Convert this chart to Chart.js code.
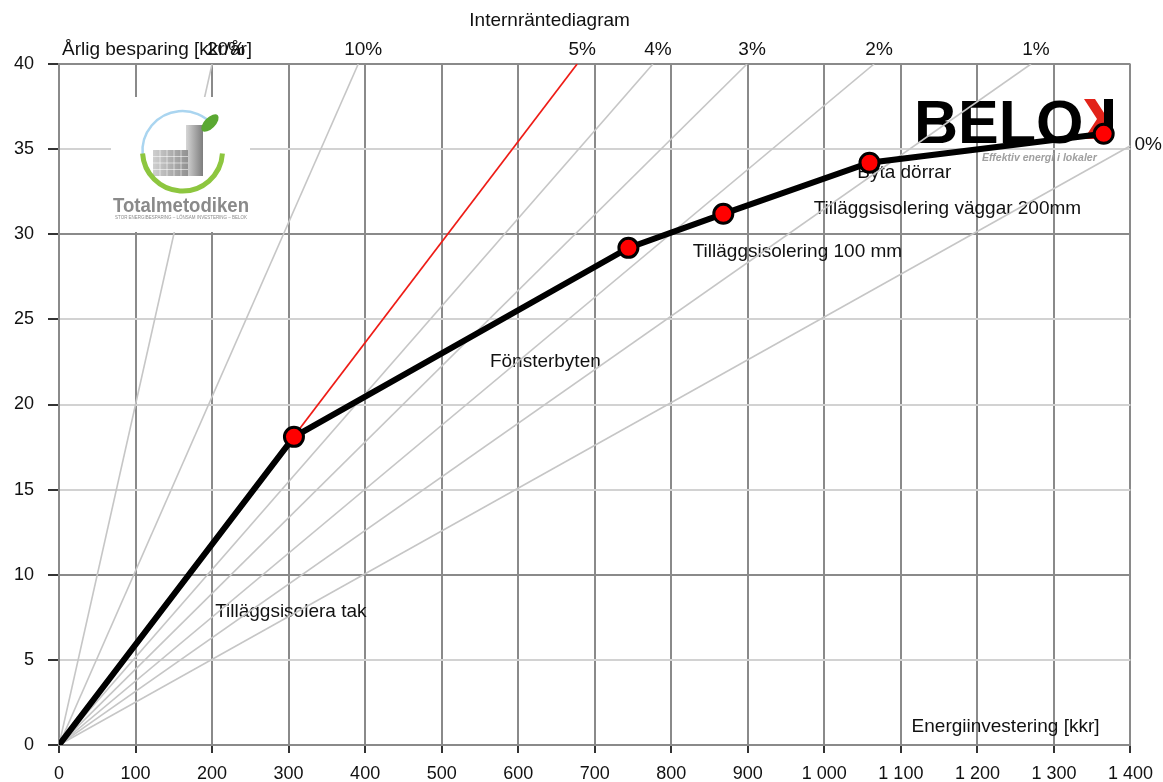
<!DOCTYPE html>
<html>
<head>
<meta charset="utf-8">
<title>Internräntediagram</title>
<script src="https://cdn.jsdelivr.net/npm/chart.js@4.4.1/dist/chart.umd.min.js"></script>
<style>
  html, body { margin: 0; padding: 0; background: #fff; }
  #wrap { width: 1163px; height: 782px; }
</style>
</head>
<body>
<div id="wrap"><canvas id="chart" width="1163" height="782"></canvas></div>
<script>
// Åtgärder i ordning, kumulativ investering (kkr) och årlig besparing (kkr/år)
const measures = ['', 'Tilläggsisolera tak', 'Fönsterbyten', 'Tilläggsisolering 100 mm', 'Tilläggsisolering väggar 200mm', 'Byta dörrar'];
const investment = [0, 307, 744, 868, 1059, 1365];
const savings = [0, 18.1, 29.2, 31.2, 34.2, 35.9];

// Internräntelinjer från origo, avlästa där de lämnar ritytan
const rateLabels = ['20%', '10%', '5%', '4%', '3%', '2%', '1%', '0%'];
const rateEndX = [200, 391, 677, 776, 899, 1065, 1270, 1400];
const rateEndY = [40, 40, 40, 40, 40, 40, 40, 35.2];
const calcRate = '5%';

const xMax = 1400, xStep = 100;
const yMax = 40, yStep = 5;
const darkRows = [0, 10, 30, 40];

// var åtgärdstexterna står (datakoordinater, vänsterkant / mitt)
const notePos = [null, [204, 7.8], [563, 22.5], [828, 29.0], [986, 31.5], [1043, 33.6]];

const FONT = "'Liberation Sans', Arial, sans-serif";
const DARK = '#8a8a8a';
const LIGHT = '#d2d2d2';

function kkr(v) {
  if (v < 1000) return String(v);
  return Math.floor(v / 1000) + ' ' + String(v % 1000).padStart(3, '0');
}

function drawBelok(ctx) {
  ctx.save();
  ctx.fillStyle = '#000';
  ctx.font = 'bold 61px ' + FONT;
  ctx.textBaseline = 'alphabetic';
  ctx.textAlign = 'left';
  ctx.fillText('BELO', 914, 143);
  // röd vinkel + svart stapel
  ctx.fillStyle = '#e2231a';
  ctx.beginPath();
  ctx.moveTo(1084, 99);
  ctx.lineTo(1095, 99);
  ctx.lineTo(1108, 119);
  ctx.lineTo(1095, 139);
  ctx.lineTo(1084, 139);
  ctx.lineTo(1097, 119);
  ctx.closePath();
  ctx.fill();
  ctx.fillStyle = '#000';
  ctx.fillRect(1104, 99, 9, 40);
  ctx.fillStyle = '#a0a0a0';
  ctx.font = 'italic bold 10.5px ' + FONT;
  ctx.fillText('Effektiv energi i lokaler', 982, 161, 131);
  ctx.restore();
}

function drawTotalmetodiken(ctx) {
  ctx.save();
  ctx.fillStyle = '#fff';
  ctx.fillRect(111, 97, 139, 135);
  const cx = 182.5, cy = 151, r = 40;
  // byggnader
  let g = ctx.createLinearGradient(186, 0, 203, 0);
  g.addColorStop(0, '#d6d6d6');
  g.addColorStop(1, '#7d7d7d');
  ctx.fillStyle = g;
  ctx.fillRect(186, 125, 17, 51);
  g = ctx.createLinearGradient(153, 0, 190, 0);
  g.addColorStop(0, '#cfcfcf');
  g.addColorStop(1, '#8e8e8e');
  ctx.fillStyle = g;
  ctx.fillRect(153, 150, 35, 26);
  ctx.strokeStyle = 'rgba(255,255,255,0.7)';
  ctx.lineWidth = 0.8;
  for (let i = 1; i < 5; i++) {
    ctx.beginPath(); ctx.moveTo(153 + i * 7, 150); ctx.lineTo(153 + i * 7, 176); ctx.stroke();
  }
  for (let j = 1; j < 4; j++) {
    ctx.beginPath(); ctx.moveTo(153, 150 + j * 6.5); ctx.lineTo(188, 150 + j * 6.5); ctx.stroke();
  }
  // cirkelbågar
  ctx.strokeStyle = '#aad5f0';
  ctx.lineWidth = 2.5;
  ctx.beginPath(); ctx.arc(cx, cy, r, Math.PI * 0.97, Math.PI * 1.78); ctx.stroke();
  ctx.strokeStyle = '#8dc63f';
  ctx.lineWidth = 5;
  ctx.beginPath(); ctx.arc(cx, cy, r, Math.PI * 0.02, Math.PI * 0.98); ctx.stroke();
  // löv
  ctx.fillStyle = '#5aa832';
  ctx.beginPath(); ctx.ellipse(210, 123, 11, 5.5, -Math.PI / 4, 0, Math.PI * 2); ctx.fill();
  // text
  ctx.fillStyle = '#8a8a8a';
  ctx.textAlign = 'left';
  ctx.textBaseline = 'alphabetic';
  ctx.font = 'bold 20px ' + FONT;
  ctx.fillText('Totalmetodiken', 113, 212, 136);
  ctx.font = '4.5px ' + FONT;
  ctx.fillText('STOR ENERGIBESPARING – LÖNSAM INVESTERING – BELOK', 115, 219, 132);
  ctx.restore();
}

const decor = {
  id: 'decor',
  beforeDatasetsDraw(chart) {
    const { ctx, scales: { x, y } } = chart;
    ctx.save();
    ctx.fillStyle = '#111';
    ctx.font = '19px ' + FONT;
    ctx.textBaseline = 'middle';
    ctx.textAlign = 'left';
    measures.forEach((m, i) => {
      if (!m) return;
      ctx.fillText(m, x.getPixelForValue(notePos[i][0]), y.getPixelForValue(notePos[i][1]));
    });
    ctx.fillText('Energiinvestering [kkr]', x.getPixelForValue(1114), y.getPixelForValue(1.05));
    ctx.restore();
    drawBelok(ctx);
  },
  afterDatasetsDraw(chart) {
    const { ctx, scales: { x, y }, chartArea: a } = chart;
    drawTotalmetodiken(ctx);
    ctx.save();
    ctx.fillStyle = '#111';
    ctx.font = '19px ' + FONT;
    ctx.textBaseline = 'middle';
    ctx.textAlign = 'center';
    ctx.fillText('Internräntediagram', x.getPixelForValue(641), a.top - 43);
    ctx.textAlign = 'left';
    ctx.fillText('Årlig besparing [kkr/år]', a.left + 3, a.top - 14);
    rateLabels.forEach((lbl, i) => {
      if (rateEndY[i] >= yMax) {
        ctx.textAlign = 'center';
        ctx.fillText(lbl, x.getPixelForValue(rateEndX[i]) + (i === 0 ? 14 : 5), a.top - 14);
      } else {
        ctx.textAlign = 'left';
        ctx.fillText(lbl, a.right + 4, y.getPixelForValue(rateEndY[i]) - 1);
      }
    });
    ctx.restore();
  }
};

const mainSeries = investment.map((v, i) => ({ x: v, y: savings[i] }));

const rateSets = rateEndX.map((ex, i) => {
  const red = rateLabels[i] === calcRate;
  return {
    label: rateLabels[i],
    data: [{ x: 0, y: 0 }, { x: ex, y: rateEndY[i] }],
    showLine: true,
    borderColor: red ? '#ee1c16' : '#c6c6c6',
    borderWidth: red ? 1.7 : 1.6,
    pointRadius: 0,
    order: red ? 1 : 2
  };
});

new Chart(document.getElementById('chart'), {
  type: 'scatter',
  data: {
    datasets: [
      {
        label: 'Åtgärder',
        data: mainSeries,
        showLine: true,
        borderColor: '#000',
        borderWidth: 6,
        pointRadius: ctx => (ctx.dataIndex === 0 ? 0 : 9.5),
        pointBackgroundColor: '#f00',
        pointBorderColor: '#000',
        pointBorderWidth: 3,
        order: 0
      },
      ...rateSets
    ]
  },
  options: {
    responsive: false,
    animation: false,
    layout: { padding: { top: 64, right: 32, left: 0, bottom: 0 } },
    plugins: { legend: { display: false }, tooltip: { enabled: false } },
    scales: {
      x: {
        type: 'linear',
        min: 0,
        max: xMax,
        afterFit: s => { s.height = 37; },
        ticks: {
          stepSize: xStep,
          color: '#111',
          font: { family: FONT, size: 18 },
          padding: 10,
          maxRotation: 0,
          callback: v => kkr(v)
        },
        grid: { color: DARK, lineWidth: 2, tickColor: '#333', tickLength: 8, tickWidth: 2 },
        border: { display: true, color: DARK, width: 2 }
      },
      y: {
        type: 'linear',
        min: 0,
        max: yMax,
        afterFit: s => { s.width = 59; },
        ticks: {
          stepSize: yStep,
          color: '#111',
          font: { family: FONT, size: 18 },
          padding: 14
        },
        grid: {
          color: c => (darkRows.includes(c.tick.value) ? DARK : LIGHT),
          lineWidth: 2,
          tickColor: '#333',
          tickLength: 11,
          tickWidth: 2
        },
        border: { display: true, color: DARK, width: 2 }
      }
    }
  },
  plugins: [decor]
});
</script>
</body>
</html>
